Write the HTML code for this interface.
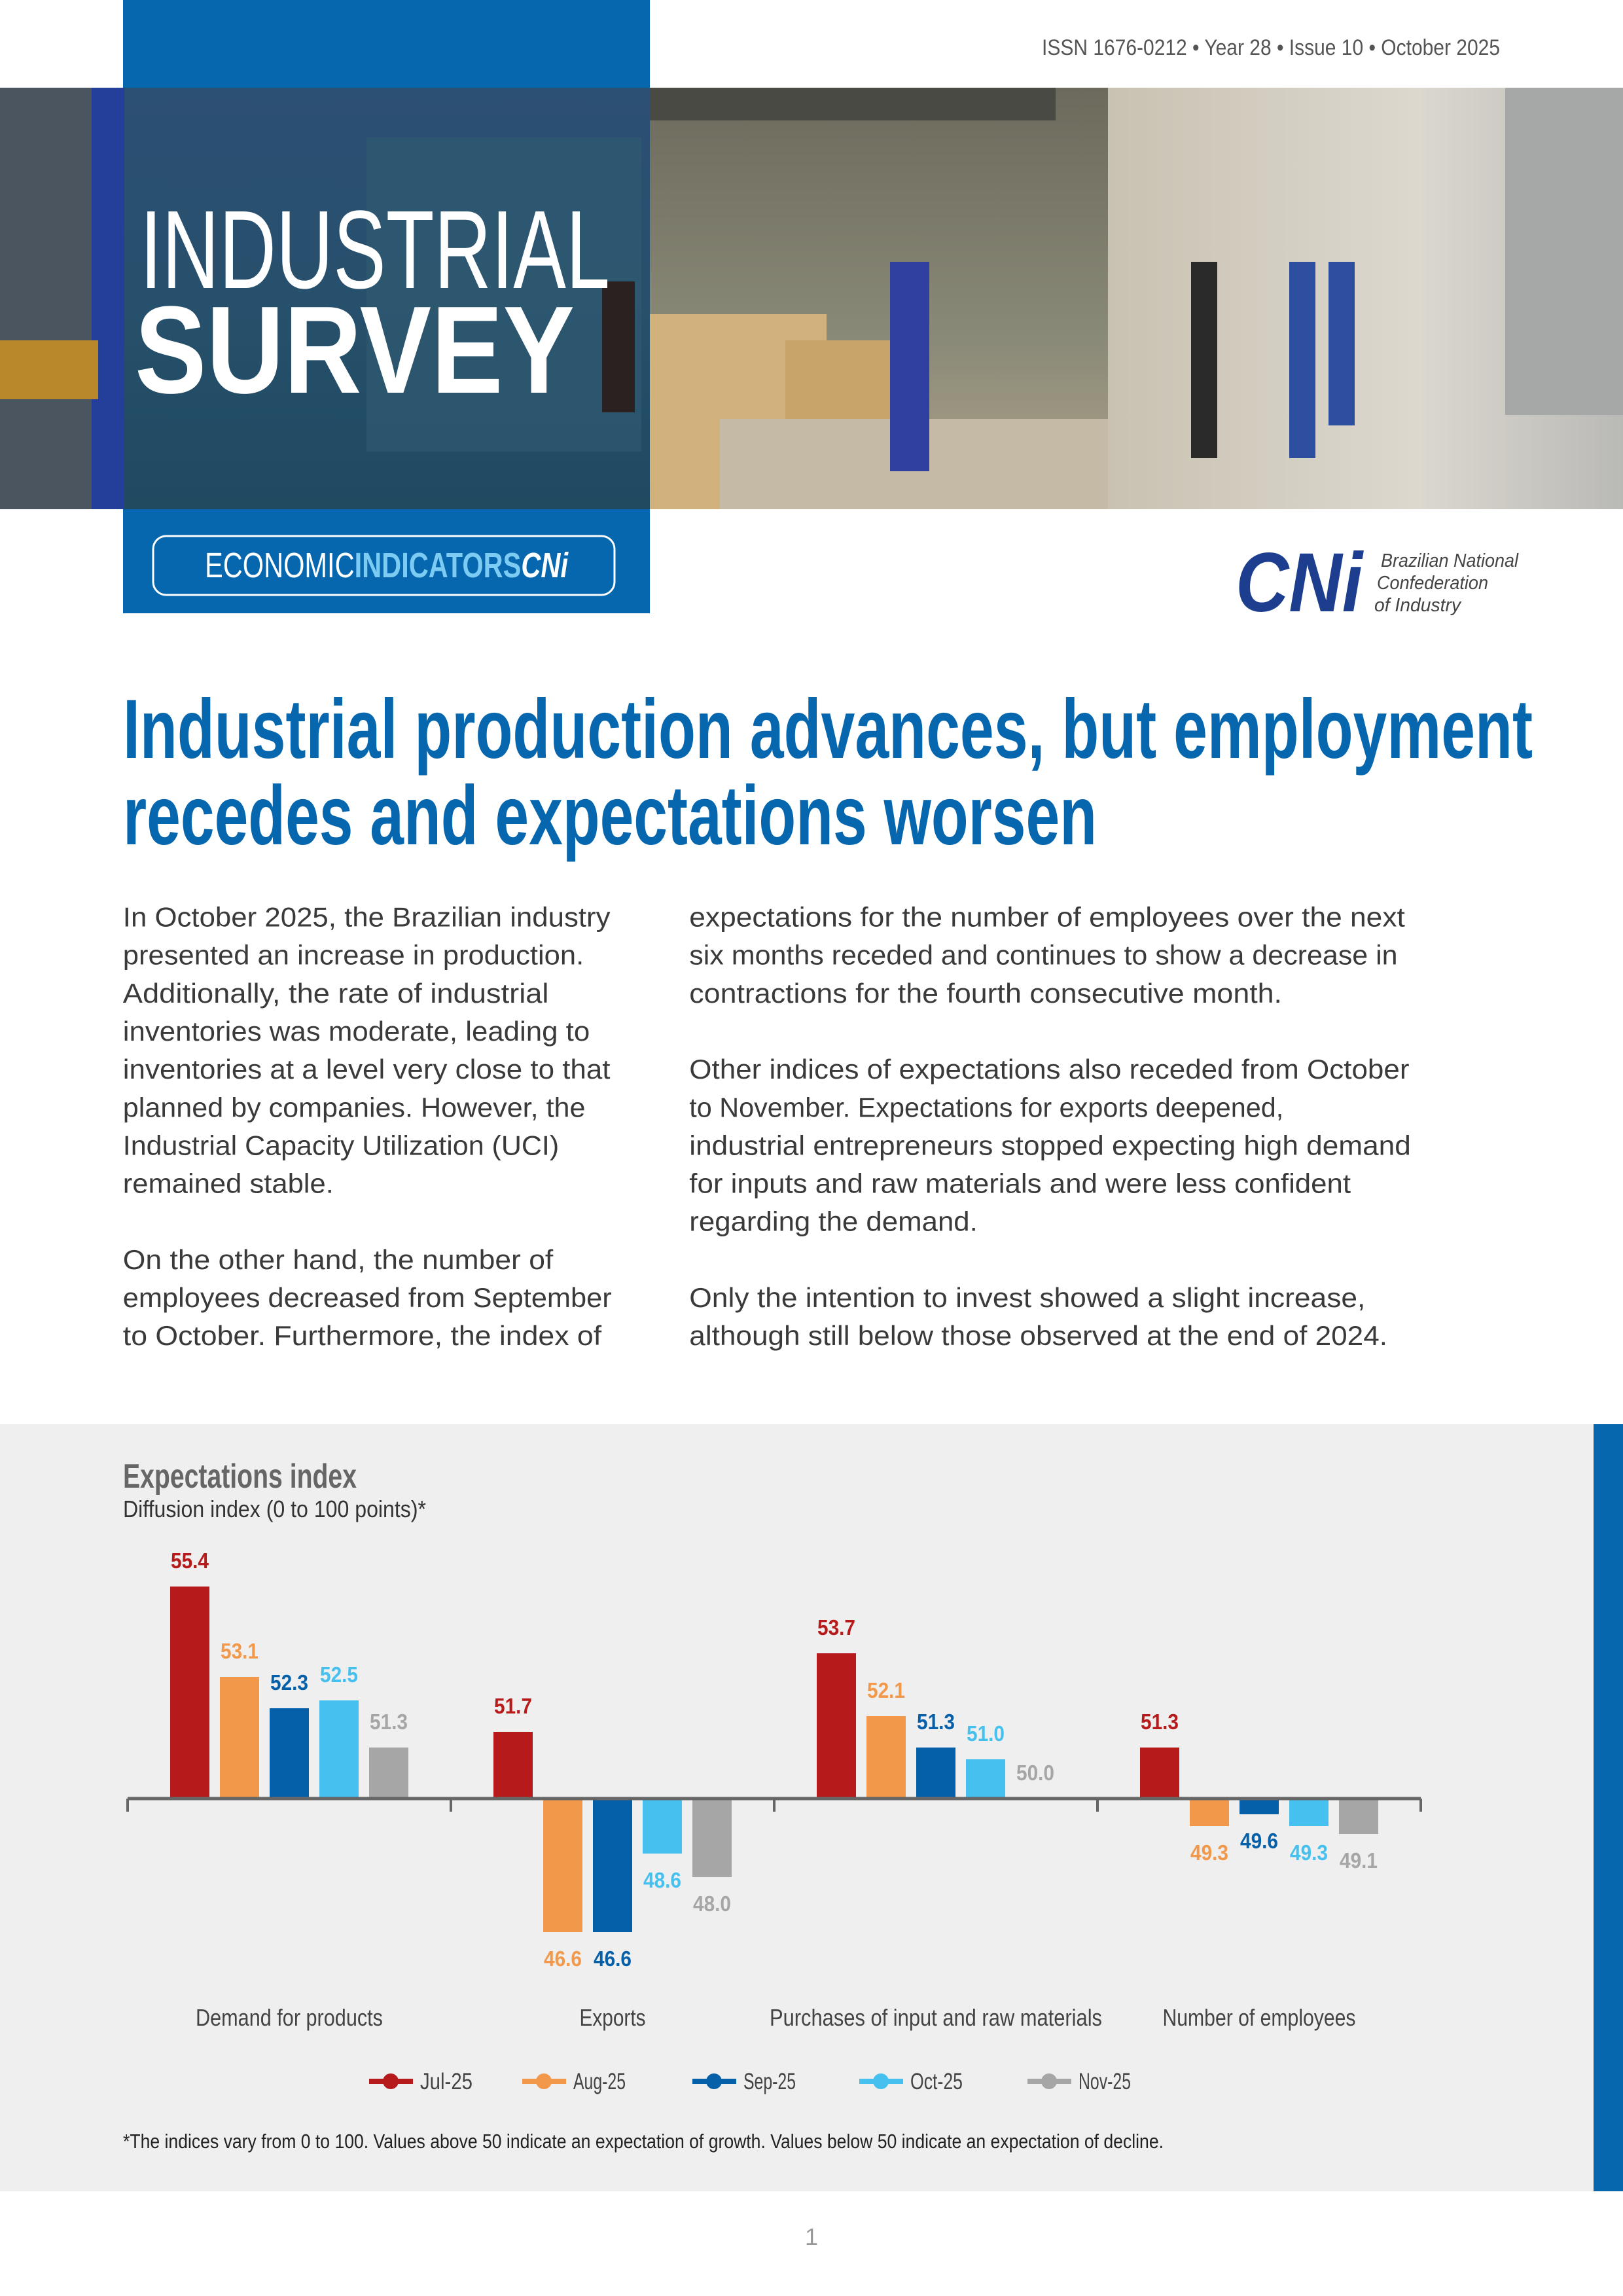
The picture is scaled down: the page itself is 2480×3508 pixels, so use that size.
<!DOCTYPE html>
<html><head><meta charset="utf-8">
<style>
html,body{margin:0;padding:0;background:#fff}
svg{display:block}
text{font-family:"Liberation Sans",sans-serif}
.nar{font-family:"Liberation Sans Narrow","Liberation Sans",sans-serif}
</style></head>
<body>
<svg id="page" width="2480" height="3508" viewBox="0 0 2480 3508" xmlns="http://www.w3.org/2000/svg">
<defs>
<linearGradient id="photoL" x1="0" y1="0" x2="0" y2="1"><stop offset="0" stop-color="#2c4f74"/><stop offset="0.5" stop-color="#27506c"/><stop offset="1" stop-color="#1f4a60"/></linearGradient>
<linearGradient id="photoM" x1="0" y1="0" x2="0" y2="1"><stop offset="0" stop-color="#6c6a5c"/><stop offset="0.6" stop-color="#8a8a78"/><stop offset="1" stop-color="#b0a48a"/></linearGradient>
<linearGradient id="photoR" x1="0" y1="0" x2="1" y2="0"><stop offset="0" stop-color="#c9c2b2"/><stop offset="0.6" stop-color="#dcd8cf"/><stop offset="1" stop-color="#b9b9b6"/></linearGradient>
</defs>

<rect x="188" y="0" width="805" height="134" fill="#0666ae"/>
<text x="2292" y="84" text-anchor="end" class="nar" font-size="34" fill="#555" textLength="700" lengthAdjust="spacingAndGlyphs">ISSN 1676-0212 • Year 28 • Issue 10 • October 2025</text>

<g>
<rect x="0" y="134" width="993" height="644" fill="url(#photoL)"/>
<rect x="0" y="134" width="140" height="644" fill="#4a5560"/>
<rect x="140" y="134" width="50" height="644" fill="#233f9a"/>
<rect x="0" y="520" width="150" height="90" fill="#b8882a"/>
<rect x="560" y="210" width="420" height="480" fill="#2f5a70" opacity="0.7"/>
<rect x="993" y="134" width="700" height="644" fill="url(#photoM)"/>
<rect x="993" y="134" width="620" height="50" fill="#4a4a44"/>
<rect x="993" y="480" width="270" height="298" fill="#d2b27c"/>
<rect x="1200" y="520" width="160" height="258" fill="#c9a46a"/>
<rect x="1100" y="640" width="600" height="138" fill="#c4baa6"/>
<rect x="1693" y="134" width="787" height="644" fill="url(#photoR)"/>
<rect x="1820" y="400" width="40" height="300" fill="#2a2a2a"/>
<rect x="1970" y="400" width="40" height="300" fill="#2e4fa0"/>
<rect x="2030" y="400" width="40" height="250" fill="#2e4fa0"/>
<rect x="2300" y="134" width="180" height="500" fill="#a6a8a8"/>
<rect x="920" y="430" width="50" height="200" fill="#2a2220"/>
<rect x="1360" y="400" width="60" height="320" fill="#3040a0"/>
</g>
<text x="214" y="440" font-size="170" fill="#fff" font-weight="300" class="nar" textLength="718" lengthAdjust="spacingAndGlyphs">INDUSTRIAL</text>
<text x="206" y="600" font-size="190" fill="#fff" font-weight="bold" class="nar" textLength="672" lengthAdjust="spacingAndGlyphs">SURVEY</text>

<rect x="188" y="778" width="805" height="159" fill="#0666ae"/>
<rect x="234" y="819" width="705" height="90" rx="20" fill="none" stroke="#fff" stroke-width="3"/>
<text x="313" y="882" font-size="54" class="nar" textLength="555" lengthAdjust="spacingAndGlyphs"><tspan fill="#fff">ECONOMIC</tspan><tspan fill="#7ccbf2" font-weight="bold">INDICATORS</tspan><tspan fill="#fff" font-weight="bold" font-style="italic">CNi</tspan></text>

<text x="1888" y="934" font-size="128" font-weight="bold" font-style="italic" fill="#1d3d8f" class="nar" textLength="194" lengthAdjust="spacingAndGlyphs">CNi</text>
<text x="2110" y="866" font-size="29" font-style="italic" fill="#444" class="nar" textLength="210" lengthAdjust="spacingAndGlyphs">Brazilian National</text>
<text x="2104" y="900" font-size="29" font-style="italic" fill="#444" class="nar" textLength="170" lengthAdjust="spacingAndGlyphs">Confederation</text>
<text x="2100" y="934" font-size="29" font-style="italic" fill="#444" class="nar" textLength="132" lengthAdjust="spacingAndGlyphs">of Industry</text>

<text x="188" y="1158" font-size="128" font-weight="bold" fill="#0666ae" class="nar" textLength="2154" lengthAdjust="spacingAndGlyphs">Industrial production advances, but employment</text>
<text x="188" y="1290" font-size="128" font-weight="bold" fill="#0666ae" class="nar" textLength="1488" lengthAdjust="spacingAndGlyphs">recedes and expectations worsen</text>

<g id="body"></g>

<rect x="0" y="2176" width="2435" height="1172" fill="#efefef"/>
<rect x="2435" y="2176" width="45" height="1172" fill="#0666ae"/>
<text x="188" y="2273" font-size="52" font-weight="bold" fill="#666" class="nar" textLength="357" lengthAdjust="spacingAndGlyphs">Expectations index</text>
<text x="188" y="2318" font-size="36" fill="#333" class="nar" textLength="463" lengthAdjust="spacingAndGlyphs">Diffusion index (0 to 100 points)*</text>
<g id="chart"></g>
<text x="188" y="3282" font-size="31" fill="#222" class="nar" textLength="1590" lengthAdjust="spacingAndGlyphs">*The indices vary from 0 to 100. Values above 50 indicate an expectation of growth. Values below 50 indicate an expectation of decline.</text>
<text x="1240" y="3430" text-anchor="middle" font-size="36" fill="#999">1</text>
</svg>
<script>
const NS="http://www.w3.org/2000/svg";
const categories=["Demand for products","Exports","Purchases of input and raw materials","Number of employees"];
const seriesNames=["Jul-25","Aug-25","Sep-25","Oct-25","Nov-25"];
const jul=[55.4,51.7,53.7,51.3];
const aug=[53.1,46.6,52.1,49.3];
const sep=[52.3,46.6,51.3,49.6];
const oct=[52.5,48.6,51.0,49.3];
const nov=[51.3,48.0,50.0,49.1];
const series=[jul,aug,sep,oct,nov];
const colors=["#b71a1a","#f2984a","#065fa9","#45c0ef","#a6a6a6"];
const catLabelWidths=[286,101,508,295];

function mk(tag,attrs,parent){const e=document.createElementNS(NS,tag);for(const k in attrs)e.setAttribute(k,attrs[k]);parent.appendChild(e);return e;}

const S=2480/1109;
const bodyLines=[
["In October 2025, the Brazilian industry",84,626,417],
["presented an increase in production.",84,652,399],
["Additionally, the rate of industrial",84,678,375],
["inventories was moderate, leading to",84,704,403],
["inventories at a level very close to that",84,730,417],
["planned by companies. However, the",84,756,400],
["Industrial Capacity Utilization (UCI)",84,782,382],
["remained stable.",84,808,228],
["On the other hand, the number of",84,860,378],
["employees decreased from September",84,886,418],
["to October. Furthermore, the index of",84,912,411],
["expectations for the number of employees over the next",471,626,960],
["six months receded and continues to show a decrease in",471,652,955],
["contractions for the fourth consecutive month.",471,678,876],
["Other indices of expectations also receded from October",471,730,963],
["to November. Expectations for exports deepened,",471,756,877],
["industrial entrepreneurs stopped expecting high demand",471,782,964],
["for inputs and raw materials and were less confident",471,808,923],
["regarding the demand.",471,834,668],
["Only the intention to invest showed a slight increase,",471,886,933],
["although still below those observed at the end of 2024.",471,912,948]];
const body=document.getElementById('body');
bodyLines.forEach(l=>{
 const t=mk('text',{x:(l[1]*S).toFixed(1),y:((l[2]+7)*S).toFixed(1),'font-size':42,fill:'#3a3a3a',textLength:((l[3]-l[1])*S).toFixed(1),lengthAdjust:'spacingAndGlyphs'},body);
 
 
 t.textContent=l[0];
});

const chart=document.getElementById('chart');
const axisY=2748, axisX0=195, groupW=494, unit=60, barW=60, barStep=76, barOff=65;
function yScale(v){return axisY-(v-50)*unit;}
function xBar(g,s){return axisX0+g*groupW+barOff+s*barStep;}
categories.forEach((c,g)=>{
 series.forEach((arr,s)=>{
  const v=arr[g];
  const y1=yScale(v);
  const top=Math.min(y1,axisY), h=Math.abs(y1-axisY);
  const r=mk('rect',{x:xBar(g,s),y:top,width:barW,height:Math.max(h,0.5),fill:colors[s]},chart);
  
  
  const ly = v>=50 ? top-28 : top+h+52;
  const t=mk('text',{x:xBar(g,s)+barW/2,y:ly,'text-anchor':'middle','font-size':33,'font-weight':'bold',fill:colors[s],class:'nar',textLength:58,lengthAdjust:'spacingAndGlyphs'},chart);
  
  
  t.textContent=v.toFixed(1);
 });
 const cl=mk('text',{x:axisX0+g*groupW+groupW/2,y:3095,'text-anchor':'middle','font-size':36,fill:'#444',class:'nar',textLength:catLabelWidths[g],lengthAdjust:'spacingAndGlyphs'},chart);
 
 
 cl.textContent=c;
});
const ax=mk('line',{x1:axisX0,y1:axisY,x2:axisX0+groupW*categories.length,y2:axisY,stroke:'#666','stroke-width':5},chart);


for(let g=0;g<=categories.length;g++){
 const tk=mk('line',{x1:axisX0+g*groupW,y1:axisY,x2:axisX0+g*groupW,y2:axisY+20,stroke:'#666','stroke-width':4},chart);
 
 
}
const legX=[564,798,1058,1313,1570];
seriesNames.forEach((n,s)=>{
 const g=mk('g',{},chart);
 
 
 mk('line',{x1:legX[s],y1:3180,x2:legX[s]+67,y2:3180,stroke:colors[s],'stroke-width':8},g);
 mk('circle',{cx:legX[s]+33,cy:3180,r:12,fill:colors[s]},g);
 const t=mk('text',{x:legX[s]+78,y:3192,'font-size':35,fill:'#444',class:'nar',textLength:80,lengthAdjust:'spacingAndGlyphs'},g);
 t.textContent=n;
});
</script>
</body></html>
